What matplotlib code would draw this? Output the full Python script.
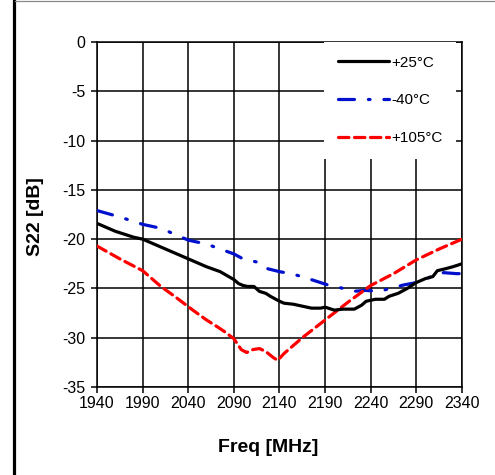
import matplotlib
matplotlib.use("Agg")
import matplotlib.pyplot as plt
from matplotlib.lines import Line2D

plt.rcParams['font.family'] = ['Liberation Sans', 'DejaVu Sans']
plt.rcParams['lines.scale_dashes'] = False

# data
f_25 = [1940, 1950, 1960, 1970, 1980, 1990, 2000, 2010, 2020, 2030, 2040, 2050, 2060,
        2075, 2090, 2095, 2100, 2105, 2112, 2118, 2125, 2130, 2140, 2145, 2155, 2165,
        2175, 2185, 2190, 2200, 2210, 2222, 2230, 2235, 2245, 2255, 2260, 2270, 2280,
        2290, 2300, 2308, 2313, 2322, 2330, 2340]
s_25 = [-18.4, -18.8, -19.2, -19.5, -19.8, -20.0, -20.4, -20.8, -21.2, -21.6, -22.0, -22.4, -22.8,
        -23.3, -24.1, -24.5, -24.7, -24.8, -24.8, -25.3, -25.5, -25.8, -26.3, -26.5, -26.6, -26.8,
        -27.0, -27.0, -26.9, -27.2, -27.1, -27.1, -26.7, -26.3, -26.1, -26.1, -25.8, -25.5, -25.0,
        -24.4, -24.0, -23.8, -23.2, -23.0, -22.8, -22.5]

f_m40 = [1940, 1965, 1990, 2010, 2040, 2060, 2090, 2100, 2119, 2127, 2140, 2153, 2168, 2178,
         2193, 2210, 2220, 2234, 2250, 2259, 2276, 2296, 2308, 2320, 2334, 2340]
s_m40 = [-17.1, -17.75, -18.5, -18.9, -20.1, -20.5, -21.5, -22.0, -22.4, -23.0, -23.3, -23.5, -23.9, -24.2,
         -24.65, -25.0, -25.3, -25.2, -25.3, -25.05, -24.65, -24.3, -23.7, -23.4, -23.5, -23.5]

f_105 = [1940, 1965, 1990, 2010, 2025, 2045, 2060, 2072, 2080, 2090, 2098, 2104, 2111, 2118,
         2125, 2133, 2138, 2145, 2165, 2190, 2215, 2240, 2265, 2290, 2315, 2340]
s_105 = [-20.7, -22.0, -23.2, -24.8, -25.8, -27.2, -28.2, -28.9, -29.4, -30.1, -31.2, -31.5, -31.2, -31.1,
         -31.4, -32.0, -32.3, -31.6, -30.0, -28.2, -26.4, -24.7, -23.5, -22.1, -21.0, -20.0]

x_ticks = [1940, 1990, 2040, 2090, 2140, 2190, 2240, 2290, 2340]
y_ticks = [0, -5, -10, -15, -20, -25, -30, -35]

W, H = 495, 475
fig = plt.figure(figsize=(W / 100, H / 100), dpi=100)
ax = fig.add_axes([97 / W, 1 - 387 / H, (462 - 97) / W, (387 - 42) / H])

ax.plot(f_25, s_25, color='black', lw=2.3, label='+25°C', solid_capstyle='round', zorder=4)
ax.plot(f_m40, s_m40, color='#0010CC', lw=2.3, linestyle=(0, (11.5, 10, 1.2, 10)),
        dash_capstyle='round', label='-40°C', zorder=3)
ax.plot(f_105, s_105, color='#FF0000', lw=2.3, linestyle=(0, (7.5, 4.0)),
        dash_capstyle='round', label='+105°C', zorder=3)

ax.set_xlim(1940, 2340)
ax.set_ylim(-35, 0)
ax.set_xticks(x_ticks)
ax.set_yticks(y_ticks)
ax.set_xticklabels([str(v) for v in x_ticks])
ax.set_yticklabels([str(v) for v in y_ticks])
ax.grid(True, color='black', lw=1.1)
ax.set_axisbelow(True)
for sp in ax.spines.values():
    sp.set_linewidth(1.1)
ax.tick_params(direction='out', length=4.3, width=1.1, labelsize=11.5, color='black')
ax.tick_params(axis='x', pad=2.5)
ax.tick_params(axis='y', pad=4)

leg = ax.legend(loc='upper right', bbox_to_anchor=(0.984, 1.0), fontsize=11,
                frameon=True, facecolor='white', edgecolor='none', framealpha=1.0,
                handlelength=3.35, handletextpad=0.15, labelspacing=1.55,
                borderpad=0.9, borderaxespad=0.0, fancybox=False)

fig.text(268 / W, 1 - 447 / H, 'Freq [MHz]', fontsize=14, fontweight='bold',
         ha='center', va='center')
fig.text(35 / W, 1 - 217 / H, 'S22 [dB]', fontsize=14, fontweight='bold',
         ha='center', va='center', rotation=90)

# figure border lines
fig.add_artist(Line2D([13.5 / W, 13.5 / W], [0, 1], transform=fig.transFigure,
                      color='black', lw=2.3))
fig.add_artist(Line2D([15 / W, 1], [1 - 1.2 / H, 1 - 1.2 / H], transform=fig.transFigure,
                      color='#888888', lw=0.9))

fig.savefig('out.png', dpi=100)
